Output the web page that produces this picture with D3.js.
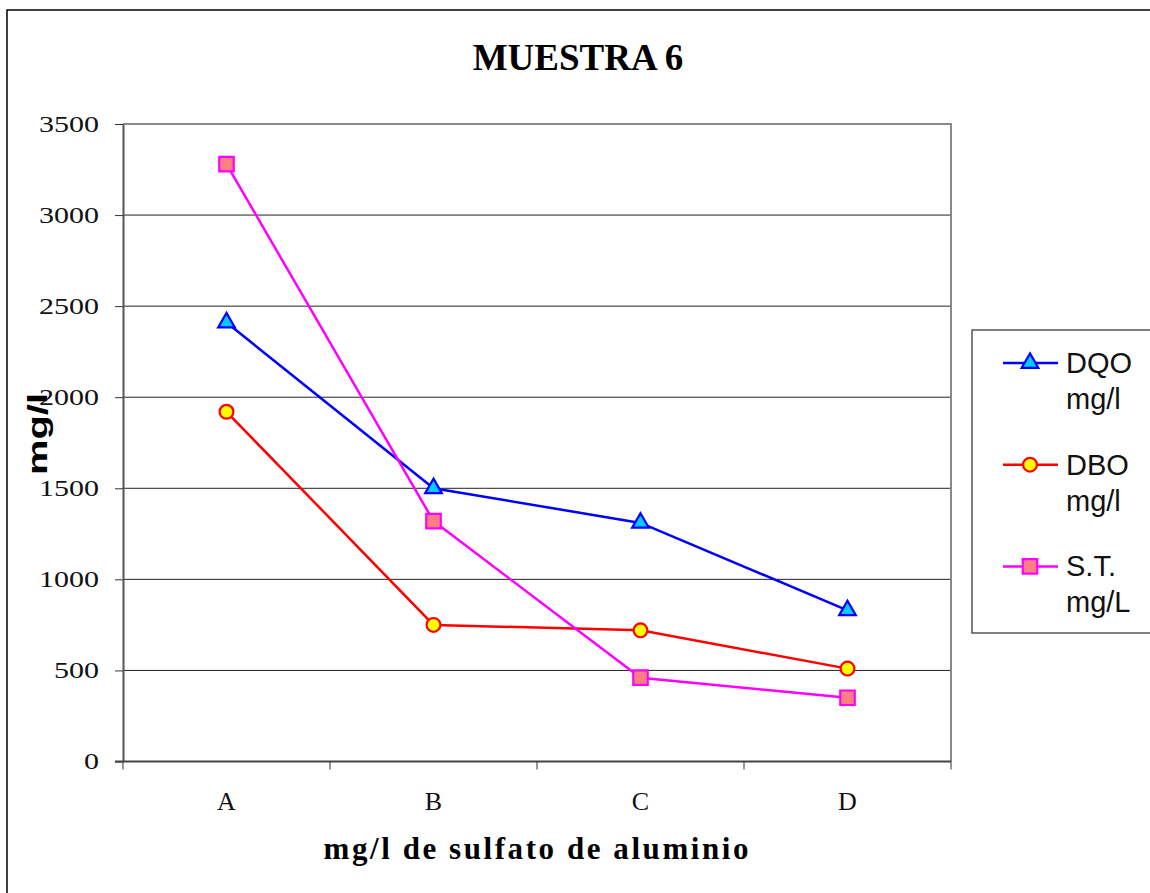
<!DOCTYPE html>
<html>
<head>
<meta charset="utf-8">
<script src="https://cdn.jsdelivr.net/npm/d3@7"></script>
<style>
  body { margin: 0; background: #fff; }
  svg { display: block; }
</style>
</head>
<body>
<div class="chart"></div>
<script>
// datos
const categories = ['A', 'B', 'C', 'D'];
const dqo = [2410, 1500, 1310, 830];
const dbo = [1920, 750, 720, 510];
const st = [3280, 1320, 460, 350];
const yTicks = [0, 500, 1000, 1500, 2000, 2500, 3000, 3500];
const seriesNames = [['DQO', 'mg/l'], ['DBO', 'mg/l'], ['S.T.', 'mg/L']];

const svg_width = 1150;
const svg_height = 893;
const margin = { top: 124, right: 199, bottom: 131.5, left: 123 };
const width = svg_width - margin.left - margin.right;
const height = svg_height - margin.top - margin.bottom;

const svg = d3.select('.chart').append('svg')
    .attr('width', svg_width).attr('height', svg_height);

// marco exterior
svg.append('rect').attr('x', 7).attr('y', 10)
    .attr('width', svg_width + 20).attr('height', svg_height + 20)
    .attr('fill', 'none').attr('stroke', '#000').attr('stroke-width', 1.5);

const g = svg.append('g').attr('transform', `translate(${margin.left},${margin.top})`);

const x = d3.scaleBand().domain(categories).range([0, width]);
const y = d3.scaleLinear().domain([0, 3500]).range([height, 0]);

// líneas de cuadrícula
g.append('g').selectAll('line').data(yTicks.filter(d => d > 0 && d < 3500)).join('line')
    .attr('x1', 0).attr('x2', width)
    .attr('y1', d => y(d)).attr('y2', d => y(d))
    .attr('stroke', '#222').attr('stroke-width', 1);

// borde del área de trazado (arriba y derecha)
g.append('path')
    .attr('d', `M0,${y(3500)}H${width}V${height}`)
    .attr('fill', 'none').attr('stroke', '#888').attr('stroke-width', 2);

// eje Y
const yAxis = d3.axisLeft(y).tickValues(yTicks).tickFormat(d3.format('d'))
    .tickSize(8).tickSizeOuter(0).tickPadding(16);
const yAxisDraw = g.append('g').call(yAxis);
yAxisDraw.select('.domain').attr('stroke', '#555').attr('stroke-width', 2);
yAxisDraw.selectAll('.tick line').attr('stroke', '#333');
yAxisDraw.selectAll('text')
    .attr('font-family', '"Liberation Serif", "Times New Roman", serif')
    .attr('font-size', 23).attr('fill', '#111')
    .attr('textLength', d => String(d).length * 15)
    .attr('lengthAdjust', 'spacingAndGlyphs');

// eje X con marcas en los bordes de cada categoría
const xAxis = d3.axisBottom(x).tickSize(0).tickPadding(30);
const xAxisDraw = g.append('g').attr('transform', `translate(0,${height})`).call(xAxis);
xAxisDraw.select('.domain').remove();
xAxisDraw.selectAll('text')
    .attr('font-family', '"Liberation Serif", "Times New Roman", serif')
    .attr('font-size', 26).attr('fill', '#111');
g.append('line').attr('x1', -8).attr('x2', width).attr('y1', height).attr('y2', height)
    .attr('stroke', '#444').attr('stroke-width', 2);
g.append('g').selectAll('line').data(d3.range(categories.length + 1)).join('line')
    .attr('x1', i => i * x.bandwidth()).attr('x2', i => i * x.bandwidth())
    .attr('y1', height).attr('y2', height + 8)
    .attr('stroke', '#333').attr('stroke-width', 1);

// series
const series = [
    { values: dqo, stroke: '#0000ff', fill: '#00ccff', shape: d3.symbolTriangle, size: 120 },
    { values: dbo, stroke: '#ff0000', fill: '#ffff00', shape: d3.symbolCircle, size: 150 },
    { values: st, stroke: '#ff00ff', fill: '#ff8080', shape: d3.symbolSquare, size: 210 }
];
const cx = c => x(c) + x.bandwidth() / 2;
const line = d3.line().x((d, i) => cx(categories[i])).y(d => y(d));

series.forEach(s => {
    g.append('path').datum(s.values)
        .attr('d', line).attr('fill', 'none')
        .attr('stroke', s.stroke).attr('stroke-width', 2.5);
});
series.forEach(s => {
    g.append('g').selectAll('path').data(s.values).join('path')
        .attr('d', d3.symbol().type(s.shape).size(s.size))
        .attr('transform', (d, i) => `translate(${cx(categories[i])},${y(d)})`)
        .attr('fill', s.fill).attr('stroke', s.stroke).attr('stroke-width', 2.2);
});

// título
svg.append('text').attr('x', 578).attr('y', 70).attr('text-anchor', 'middle')
    .attr('font-family', '"Liberation Serif", "Times New Roman", serif')
    .attr('font-size', 37).attr('font-weight', 'bold')
    .text('MUESTRA 6');

// título eje X
svg.append('text').attr('x', 536).attr('y', 859).attr('text-anchor', 'middle')
    .attr('font-family', '"Liberation Serif", "Times New Roman", serif')
    .attr('font-size', 31).attr('font-weight', 'bold')
    .attr('textLength', 425).attr('lengthAdjust', 'spacing')
    .text('mg/l de sulfato de aluminio');

// título eje Y
svg.append('text').attr('transform', 'translate(47,434) rotate(-90)')
    .attr('text-anchor', 'middle')
    .attr('font-family', '"Liberation Sans", Arial, sans-serif')
    .attr('font-size', 27).attr('font-weight', 'bold')
    .attr('textLength', 82).attr('lengthAdjust', 'spacingAndGlyphs')
    .text('mg/l');

// leyenda
const legend = svg.append('g').attr('transform', 'translate(972,330)');
legend.append('rect').attr('width', 200).attr('height', 303)
    .attr('fill', '#fff').attr('stroke', '#555').attr('stroke-width', 1.5);
const item = legend.selectAll('.item').data(series).join('g')
    .attr('class', 'item')
    .attr('transform', (d, i) => `translate(0,${33 + i * 101.7})`);
item.append('line').attr('x1', 31).attr('x2', 86)
    .attr('stroke', d => d.stroke).attr('stroke-width', 2.5);
item.append('path')
    .attr('d', d => d3.symbol().type(d.shape).size(d.size)())
    .attr('transform', 'translate(58,0)')
    .attr('fill', d => d.fill).attr('stroke', d => d.stroke).attr('stroke-width', 2.2);
item.each(function (d, i) {
    const t = d3.select(this).append('text')
        .attr('font-family', '"Liberation Sans Narrow", "Liberation Sans", Arial, sans-serif')
        .attr('font-size', 29).attr('fill', '#111');
    t.append('tspan').attr('x', 94).attr('y', 10).text(seriesNames[i][0]);
    t.append('tspan').attr('x', 94).attr('y', 46).text(seriesNames[i][1]);
});
</script>
</body>
</html>
